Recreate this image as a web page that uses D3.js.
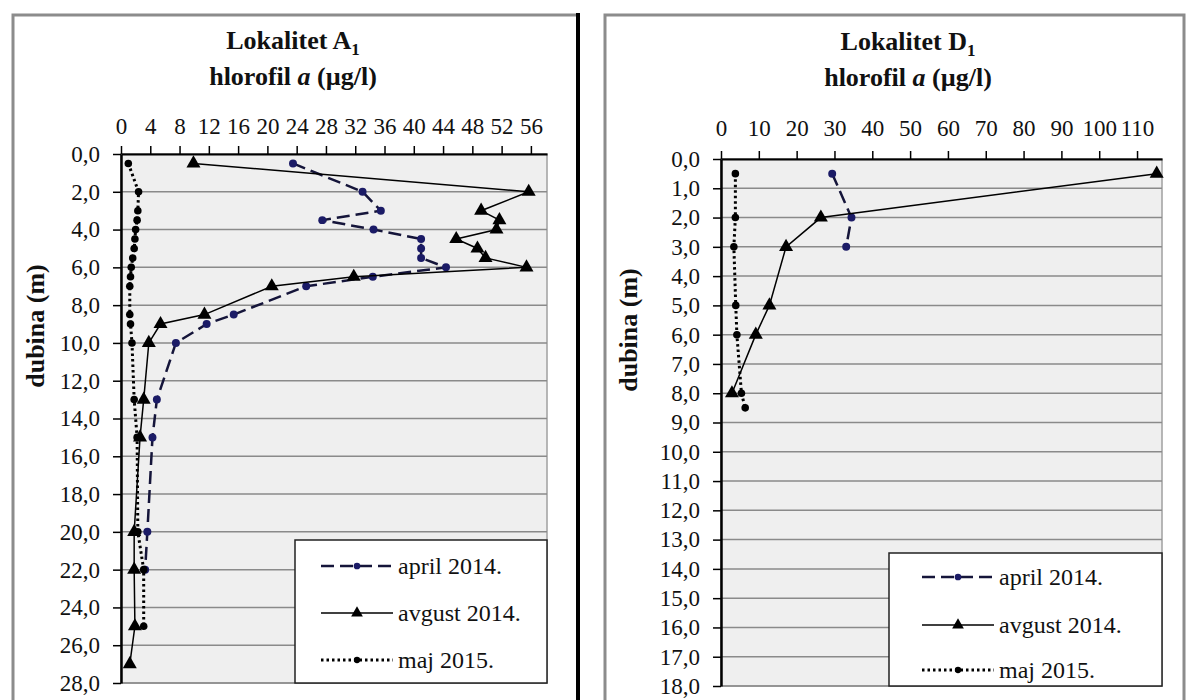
<!DOCTYPE html>
<html>
<head>
<meta charset="utf-8">
<script src="https://cdn.jsdelivr.net/npm/d3@7"></script>
<style>
body { margin: 0; background: #fff; }
text { font-family: 'Liberation Serif', 'Times New Roman', serif; }
</style>
</head>
<body>
<div id="chart"></div>
<script>
// Lokalitet A1
let seriesNames = ['april 2014.', 'avgust 2014.', 'maj 2015.']

let depthA_april = [0.5, 2, 3, 3.5, 4, 4.5, 5, 5.5, 6, 6.5, 7, 8.5, 9, 10, 13, 15, 20, 22]
let valueA_april = [23.5, 33, 35.5, 27.5, 34.5, 41, 41, 41, 44.4, 34.4, 25.3, 15.4, 11.7, 7.5, 4.9, 4.3, 3.6, 3.3]
let depthA_avgust = [0.5, 2, 3, 3.5, 4, 4.5, 5, 5.5, 6, 6.5, 7, 8.5, 9, 10, 13, 15, 20, 22, 25, 27]
let valueA_avgust = [9.9, 55.7, 49.2, 51.7, 51.3, 45.8, 48.7, 49.8, 55.4, 31.8, 20.6, 11.4, 5.4, 3.8, 3.1, 2.6, 1.8, 1.8, 1.9, 1.2]
let depthA_maj = [0.5, 2, 3, 3.5, 4, 4.5, 5, 5.5, 6, 6.5, 7, 8.5, 9, 10, 13, 15, 20, 22, 25]
let valueA_maj = [1.0, 2.4, 2.3, 2.2, 2.0, 1.9, 1.8, 1.6, 1.4, 1.3, 1.2, 1.2, 1.3, 1.5, 1.8, 2.2, 2.3, 3.1, 3.1]

// Lokalitet D1
let depthD_april = [0.5, 2, 3]
let valueD_april = [29.4, 34.5, 33.1]
let depthD_avgust = [0.5, 2, 3, 5, 6, 8]
let valueD_avgust = [115.2, 26.4, 17.2, 12.8, 9.2, 2.9]
let depthD_maj = [0.5, 2, 3, 5, 6, 8, 8.5]
let valueD_maj = [3.8, 3.8, 3.4, 3.9, 4.2, 5.4, 6.4]

// axis ticks
let xTicksA = [0, 4, 8, 12, 16, 20, 24, 28, 32, 36, 40, 44, 48, 52, 56]
let yTicksA = [0, 2, 4, 6, 8, 10, 12, 14, 16, 18, 20, 22, 24, 26, 28]
let xTicksD = [0, 10, 20, 30, 40, 50, 60, 70, 80, 90, 100, 110]
let yTicksD = [0, 1, 2, 3, 4, 5, 6, 7, 8, 9, 10, 11, 12, 13, 14, 15, 16, 17, 18]
let xMaxA = 58.2
let xMaxD = 116.6

let zip = (depths, values) => depths.map((d, i) => ({ depth: d, value: values[i] }))

let svg = d3.select('#chart').append('svg')
    .attr('width', 1189)
    .attr('height', 700)

// panel frames
svg.append('path')
    .attr('d', 'M13,700 V15 H578')
    .attr('fill', 'none')
    .attr('stroke', '#8c8c8c')
    .attr('stroke-width', 3)
svg.append('line')
    .attr('x1', 578).attr('x2', 578)
    .attr('y1', 13).attr('y2', 700)
    .attr('stroke', '#000')
    .attr('stroke-width', 4)
svg.append('path')
    .attr('d', 'M605,700 V15 H1184 V700')
    .attr('fill', 'none')
    .attr('stroke', '#8c8c8c')
    .attr('stroke-width', 3)

function draw(cfg) {
    let g = svg.append('g')
    let x = d3.scaleLinear().domain([0, cfg.xMax]).range([cfg.left, cfg.right])
    let y = d3.scaleLinear().domain([0, cfg.yMax]).range([cfg.top, cfg.bottom])
    let fmt = v => d3.format('.1f')(v).replace('.', ',')

    // plot area
    g.append('rect')
        .attr('x', cfg.left).attr('y', cfg.top)
        .attr('width', cfg.right - cfg.left)
        .attr('height', cfg.bottom - cfg.top)
        .attr('fill', '#efefef')
        .attr('stroke', '#a0a0a0')
        .attr('stroke-width', 1.5)

    g.append('g').selectAll('line')
        .data(cfg.yTicks)
        .enter()
        .append('line')
            .attr('x1', cfg.left).attr('x2', cfg.right)
            .attr('y1', d => y(d)).attr('y2', d => y(d))
            .attr('stroke', '#8a8a8a')
            .attr('stroke-width', 1.5)

    // axes
    let xAxis = g.append('g')
        .attr('transform', `translate(0,${cfg.top})`)
        .call(d3.axisTop(x).tickValues(cfg.xTicks).tickSize(8).tickSizeOuter(0).tickPadding(cfg.xPad))
    let yAxis = g.append('g')
        .attr('transform', `translate(${cfg.left},0)`)
        .call(d3.axisLeft(y).tickValues(cfg.yTicks).tickSize(8).tickSizeOuter(0).tickPadding(13).tickFormat(fmt))
    ;[xAxis, yAxis].forEach(a => {
        a.select('.domain').attr('stroke', '#000').attr('stroke-width', 2)
        a.selectAll('.tick line').attr('stroke', '#000').attr('stroke-width', 1.5)
        a.selectAll('.tick text')
            .attr('fill', '#111')
            .attr('font-size', 23)
            .attr('font-family', "'Liberation Serif', serif")
    })
    yAxis.select('.domain').attr('stroke-width', 2.5)

    // titles
    let t1 = g.append('text')
        .attr('x', cfg.titleX).attr('y', cfg.titleY)
        .attr('text-anchor', 'middle')
        .attr('font-size', 26)
        .attr('font-weight', 'bold')
        .attr('fill', '#111')
        .text(cfg.title)
    t1.append('tspan')
        .attr('font-size', 17)
        .attr('dy', 6)
        .text(cfg.sub)
    let t2 = g.append('text')
        .attr('x', cfg.titleX).attr('y', cfg.titleY + 36)
        .attr('text-anchor', 'middle')
        .attr('font-size', 26)
        .attr('font-weight', 'bold')
        .attr('fill', '#111')
        .text('hlorofil ')
    t2.append('tspan').attr('font-style', 'italic').text('a')
    t2.append('tspan').text(' (µg/l)')

    g.append('text')
        .attr('transform', `translate(${cfg.yTitleX},${cfg.yTitleY}) rotate(-90)`)
        .attr('text-anchor', 'middle')
        .attr('font-size', 26)
        .attr('font-weight', 'bold')
        .attr('fill', '#111')
        .text('dubina (m)')

    // series
    let line = d3.line().x(d => x(d.value)).y(d => y(d.depth))
    let styles = [
        { dash: '13,6', width: 2.5, color: '#15153a', marker: d3.symbolCircle, size: 50, fill: '#1b1b66' },
        { dash: null, width: 1.5, color: '#000', marker: d3.symbolTriangle, size: 85, fill: '#000' },
        { dash: '2.5,3', width: 3, color: '#000', marker: d3.symbolCircle, size: 45, fill: '#000' }
    ]
    cfg.series.forEach((s, i) => {
        let st = styles[i]
        g.append('path')
            .datum(s)
            .attr('d', line)
            .attr('fill', 'none')
            .attr('stroke', st.color)
            .attr('stroke-width', st.width)
            .attr('stroke-dasharray', st.dash)
        g.append('g').selectAll('path')
            .data(s)
            .enter()
            .append('path')
                .attr('transform', d => `translate(${x(d.value)},${y(d.depth)})`)
                .attr('d', d3.symbol().type(st.marker).size(st.size))
                .attr('fill', st.fill)
    })

    // legend
    let lg = g.append('g')
    lg.append('rect')
        .attr('x', cfg.leg.x).attr('y', cfg.leg.y)
        .attr('width', cfg.right - cfg.leg.x)
        .attr('height', cfg.bottom - cfg.leg.y)
        .attr('fill', '#fff')
        .attr('stroke', '#222')
        .attr('stroke-width', 1.5)
    seriesNames.forEach((name, i) => {
        let st = styles[i]
        let ly = cfg.leg.rows[i]
        lg.append('line')
            .attr('x1', cfg.leg.lineX).attr('x2', cfg.leg.lineX + 72)
            .attr('y1', ly).attr('y2', ly)
            .attr('stroke', st.color)
            .attr('stroke-width', st.width)
            .attr('stroke-dasharray', st.dash)
        lg.append('path')
            .attr('transform', `translate(${cfg.leg.lineX + 36},${ly})`)
            .attr('d', d3.symbol().type(st.marker).size(st.size * 0.7))
            .attr('fill', st.fill)
        lg.append('text')
            .attr('x', cfg.leg.lineX + 77).attr('y', ly)
            .attr('dy', '0.35em')
            .attr('font-size', 24)
            .attr('fill', '#111')
            .text(name)
    })
}

draw({
    left: 121, right: 547, top: 154, bottom: 683,
    xMax: xMaxA, yMax: 28, xTicks: xTicksA, yTicks: yTicksA, xPad: 12,
    title: 'Lokalitet A', sub: '1', titleX: 293, titleY: 49,
    yTitleX: 44, yTitleY: 326,
    series: [zip(depthA_april, valueA_april), zip(depthA_avgust, valueA_avgust), zip(depthA_maj, valueA_maj)],
    leg: { x: 295, y: 540, lineX: 321, rows: [566, 613, 660] }
})

draw({
    left: 721, right: 1162, top: 159, bottom: 686,
    xMax: xMaxD, yMax: 18, xTicks: xTicksD, yTicks: yTicksD, xPad: 15,
    title: 'Lokalitet D', sub: '1', titleX: 908, titleY: 50,
    yTitleX: 637, yTitleY: 330,
    series: [zip(depthD_april, valueD_april), zip(depthD_avgust, valueD_avgust), zip(depthD_maj, valueD_maj)],
    leg: { x: 889, y: 553, lineX: 922, rows: [577, 625, 670] }
})
</script>
</body>
</html>
